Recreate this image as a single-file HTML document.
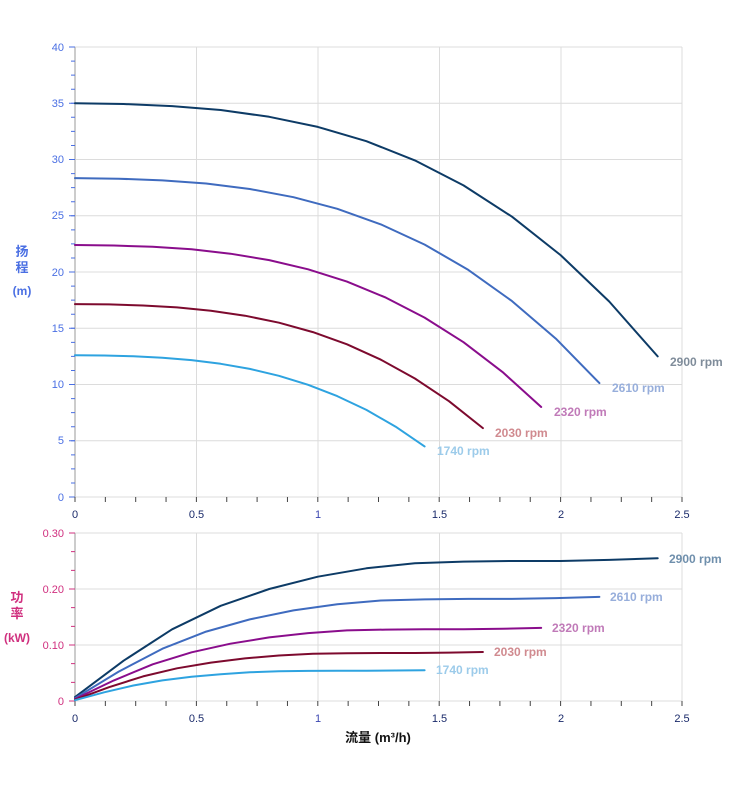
<!DOCTYPE html>
<html><head><meta charset="utf-8"><style>
body{margin:0;background:#fff}
svg{display:block;font-family:"Liberation Sans","Noto Sans CJK SC",sans-serif}
</style></head><body>
<svg width="752" height="797" viewBox="0 0 752 797" xmlns="http://www.w3.org/2000/svg">
<g stroke="#dcdcdc" stroke-width="1">
<line x1="75" y1="47" x2="682" y2="47"/><line x1="75" y1="103.25" x2="682" y2="103.25"/><line x1="75" y1="159.5" x2="682" y2="159.5"/><line x1="75" y1="215.75" x2="682" y2="215.75"/><line x1="75" y1="272" x2="682" y2="272"/><line x1="75" y1="328.25" x2="682" y2="328.25"/><line x1="75" y1="384.5" x2="682" y2="384.5"/><line x1="75" y1="440.75" x2="682" y2="440.75"/><line x1="75" y1="497" x2="682" y2="497"/>
<line x1="196.5" y1="47" x2="196.5" y2="497"/><line x1="318" y1="47" x2="318" y2="497"/><line x1="439.5" y1="47" x2="439.5" y2="497"/><line x1="561" y1="47" x2="561" y2="497"/><line x1="682" y1="47" x2="682" y2="497"/>
<line x1="75" y1="533" x2="682" y2="533"/><line x1="75" y1="589" x2="682" y2="589"/><line x1="75" y1="645" x2="682" y2="645"/><line x1="75" y1="701" x2="682" y2="701"/>
<line x1="196.5" y1="533" x2="196.5" y2="701"/><line x1="318" y1="533" x2="318" y2="701"/><line x1="439.5" y1="533" x2="439.5" y2="701"/><line x1="561" y1="533" x2="561" y2="701"/><line x1="682" y1="533" x2="682" y2="701"/>
</g>
<line x1="75" y1="47" x2="75" y2="497" stroke="#ccc" stroke-width="2"/>
<line x1="75" y1="533" x2="75" y2="701" stroke="#ccc" stroke-width="2"/>
<line x1="73" y1="46.5" x2="73" y2="498" stroke="#4a6fe3" stroke-width="4" stroke-dasharray="1 13.0625"/>
<g stroke="#4a6fe3"><line x1="69" y1="47" x2="75" y2="47"/><line x1="69" y1="103.25" x2="75" y2="103.25"/><line x1="69" y1="159.5" x2="75" y2="159.5"/><line x1="69" y1="215.75" x2="75" y2="215.75"/><line x1="69" y1="272" x2="75" y2="272"/><line x1="69" y1="328.25" x2="75" y2="328.25"/><line x1="69" y1="384.5" x2="75" y2="384.5"/><line x1="69" y1="440.75" x2="75" y2="440.75"/><line x1="69" y1="497" x2="75" y2="497"/></g>
<line x1="73" y1="532.5" x2="73" y2="702" stroke="#d0307f" stroke-width="4" stroke-dasharray="1 17.667"/>
<g stroke="#d0307f"><line x1="69" y1="533" x2="75" y2="533"/><line x1="69" y1="589" x2="75" y2="589"/><line x1="69" y1="645" x2="75" y2="645"/><line x1="69" y1="701" x2="75" y2="701"/></g>
<line x1="74.5" y1="499.5" x2="684" y2="499.5" stroke="#444" stroke-width="5" stroke-dasharray="1 29.35"/>
<line x1="74.5" y1="703.5" x2="684" y2="703.5" stroke="#444" stroke-width="5" stroke-dasharray="1 29.35"/>
<g font-size="11" fill="#4a6fe3" text-anchor="end">
<text x="64" y="51">40</text><text x="64" y="107">35</text><text x="64" y="163">30</text><text x="64" y="219">25</text><text x="64" y="276">20</text><text x="64" y="332">15</text><text x="64" y="388">10</text><text x="64" y="444">5</text><text x="64" y="501">0</text>
</g>
<g font-size="11" fill="#d0307f" text-anchor="end">
<text x="64" y="537">0.30</text><text x="64" y="593">0.20</text><text x="64" y="649">0.10</text><text x="64" y="705">0</text>
</g>
<g font-size="11" fill="#1a2a6a" text-anchor="middle">
<text x="75" y="518">0</text><text x="196.5" y="518">0.5</text><text x="318" y="518" fill="#3a46b0">1</text><text x="439.5" y="518">1.5</text><text x="561" y="518">2</text><text x="682" y="518">2.5</text>
<text x="75" y="722">0</text><text x="196.5" y="722">0.5</text><text x="318" y="722" fill="#3a46b0">1</text><text x="439.5" y="722">1.5</text><text x="561" y="722">2</text><text x="682" y="722">2.5</text>
</g>
<g font-size="13" font-weight="bold" fill="#4a6fe3" text-anchor="middle">
<text x="22" y="256">扬</text><text x="22" y="272">程</text><text x="22" y="295" font-size="12">(m)</text>
</g>
<g font-size="13" font-weight="bold" fill="#d0307f" text-anchor="middle">
<text x="17" y="602">功</text><text x="17" y="618">率</text><text x="17" y="642" font-size="12">(kW)</text>
</g>
<text x="378" y="742" font-size="13" font-weight="bold" fill="#111" text-anchor="middle">流量 (m³/h)</text>
<g fill="none" stroke-width="2" stroke-linejoin="round" stroke-linecap="round">
<polyline stroke="#0d3b66" points="75,103.25 123.6,104 172.1,106.1 220.7,110 269.2,116.8 317.8,126.9 366.4,141.2 414.9,160.4 463.5,185.4 512,216.7 560.6,255.1 609.2,301.5 657.7,356.4"/>
<polyline stroke="#3f6bbf" points="75,178.1 118.7,178.7 162.4,180.4 206.1,183.5 249.8,189 293.5,197.2 337.3,208.8 380.9,224.4 424.7,244.6 468.3,269.9 512,301.1 555.8,338.6 599.4,383.1"/>
<polyline stroke="#8a0d8c" points="75,245 113.9,245.5 152.7,246.8 191.6,249.3 230.4,253.7 269.2,260.1 308.1,269.3 346.9,281.6 385.8,297.6 424.6,317.6 463.5,342.2 502.4,371.9 541.2,407"/>
<polyline stroke="#7d0a2e" points="75,304.1 109,304.4 143,305.5 177,307.4 210.9,310.7 245,315.7 279,322.7 312.9,332.1 347,344.3 380.9,359.7 414.9,378.5 449,401.2 482.9,428.1"/>
<polyline stroke="#2ea3e0" points="75,355.3 104.2,355.5 133.3,356.3 162.4,357.7 191.5,360.1 220.7,363.8 249.8,368.9 278.9,375.8 308.1,384.8 337.2,396.1 366.4,409.9 395.5,426.6 424.6,446.4"/>
<polyline stroke="#0d3b66" points="75,697.1 123.6,660.7 172.1,629.3 220.7,605.8 269.2,589 317.8,576.7 366.4,568.3 414.9,563.2 463.5,561.6 512,561 560.6,561 609.2,559.9 657.7,558.2"/>
<polyline stroke="#3f6bbf" points="75,698.2 118.7,671.6 162.4,648.7 206.1,631.6 249.8,619.4 293.5,610.4 337.3,604.3 380.9,600.5 424.7,599.4 468.3,598.9 512,598.9 555.8,598.1 599.4,596.9"/>
<polyline stroke="#8a0d8c" points="75,699 113.9,680.4 152.7,664.3 191.6,652.3 230.4,643.7 269.2,637.4 308.1,633.1 346.9,630.4 385.8,629.6 424.6,629.3 463.5,629.3 502.4,628.8 541.2,627.9"/>
<polyline stroke="#7d0a2e" points="75,699.7 109,687.2 143,676.4 177,668.3 210.9,662.6 245,658.4 279,655.5 312.9,653.7 347,653.2 380.9,653 414.9,653 449,652.6 482.9,652"/>
<polyline stroke="#2ea3e0" points="75,700.2 104.2,692.3 133.3,685.5 162.4,680.4 191.5,676.8 220.7,674.2 249.8,672.3 278.9,671.2 308.1,670.9 337.2,670.8 366.4,670.8 395.5,670.5 424.6,670.2"/>
</g>
<g font-size="12" font-weight="bold">
<text x="670" y="366" fill="#7f8c9a">2900 rpm</text>
<text x="612" y="392" fill="#97aedb">2610 rpm</text>
<text x="554" y="416" fill="#c07ab8">2320 rpm</text>
<text x="495" y="437" fill="#d08a8f">2030 rpm</text>
<text x="437" y="455" fill="#9ccbea">1740 rpm</text>
<text x="669" y="563" fill="#6f8fac">2900 rpm</text>
<text x="610" y="601" fill="#97aedb">2610 rpm</text>
<text x="552" y="632" fill="#c07ab8">2320 rpm</text>
<text x="494" y="656" fill="#d08a8f">2030 rpm</text>
<text x="436" y="674" fill="#9ccbea">1740 rpm</text>
</g>
</svg>
</body></html>
